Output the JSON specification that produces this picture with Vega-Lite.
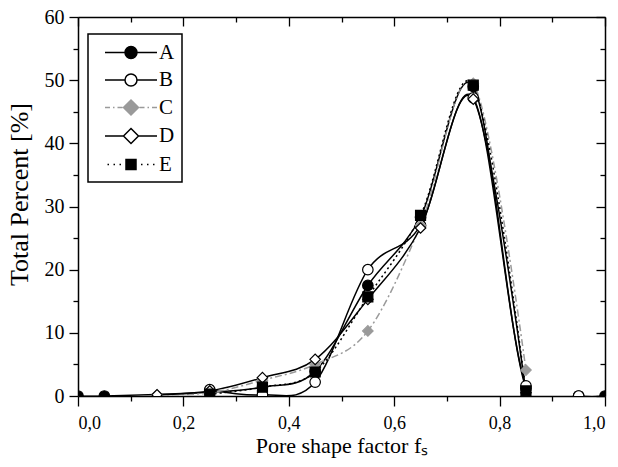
{
  "$schema": "https://vega.github.io/schema/vega-lite/v6.json",
  "width": 527,
  "height": 379,
  "autosize": "none",
  "padding": {"left": 78, "top": 17, "right": 13, "bottom": 71},
  "background": "white",
  "config": {
    "view": {"stroke": null},
    "font": "Liberation Serif",
    "axis": {
      "grid": false,
      "domainColor": "black",
      "domainWidth": 1.5,
      "tickColor": "black",
      "tickWidth": 1.3,
      "labelFont": "Liberation Serif",
      "labelColor": "black",
      "titleFont": "Liberation Serif",
      "titleFontWeight": "normal",
      "titleColor": "black"
    }
  },
  "data": {
    "values": [
      {"x": 0.0, "y": 0, "s": "A"},
      {"x": 0.05, "y": 0, "s": "A"},
      {"x": 0.25, "y": 0.6, "s": "A"},
      {"x": 0.35, "y": 1.4, "s": "A"},
      {"x": 0.45, "y": 3.9, "s": "A"},
      {"x": 0.55, "y": 17.5, "s": "A"},
      {"x": 0.65, "y": 28.3, "s": "A"},
      {"x": 0.75, "y": 49, "s": "A"},
      {"x": 0.85, "y": 1.2, "s": "A"},
      {"x": 0.95, "y": 0, "s": "A"},
      {"x": 1.0, "y": 0, "s": "A"},
      {"x": 0.25, "y": 1.0, "s": "B"},
      {"x": 0.35, "y": 0.2, "s": "B"},
      {"x": 0.45, "y": 2.2, "s": "B"},
      {"x": 0.55, "y": 20, "s": "B"},
      {"x": 0.65, "y": 27, "s": "B"},
      {"x": 0.75, "y": 47.2, "s": "B"},
      {"x": 0.85, "y": 1.6, "s": "B"},
      {"x": 0.95, "y": 0, "s": "B"},
      {"x": 0.15, "y": 0.2, "s": "C"},
      {"x": 0.25, "y": 0.5, "s": "C"},
      {"x": 0.35, "y": 2.5, "s": "C"},
      {"x": 0.45, "y": 5, "s": "C"},
      {"x": 0.55, "y": 10.3, "s": "C"},
      {"x": 0.65, "y": 27, "s": "C"},
      {"x": 0.75, "y": 49.5, "s": "C"},
      {"x": 0.85, "y": 4.1, "s": "C"},
      {"x": 0.15, "y": 0.2, "s": "D"},
      {"x": 0.25, "y": 0.8, "s": "D"},
      {"x": 0.35, "y": 2.9, "s": "D"},
      {"x": 0.45, "y": 5.8, "s": "D"},
      {"x": 0.55, "y": 15.3, "s": "D"},
      {"x": 0.65, "y": 26.6, "s": "D"},
      {"x": 0.75, "y": 47, "s": "D"},
      {"x": 0.85, "y": 0.5, "s": "D"},
      {"x": 0.25, "y": 0.3, "s": "E"},
      {"x": 0.35, "y": 1.4, "s": "E"},
      {"x": 0.45, "y": 3.8, "s": "E"},
      {"x": 0.55, "y": 15.7, "s": "E"},
      {"x": 0.65, "y": 28.6, "s": "E"},
      {"x": 0.75, "y": 49.2, "s": "E"},
      {"x": 0.85, "y": 0.8, "s": "E"}
    ]
  },
  "resolve": {"axis": {"x": "independent", "y": "independent"}},
  "layer": [
    {
      "transform": [{"filter": "datum.s === 'A'"}],
      "mark": {"type": "line", "interpolate": "cardinal", "strokeWidth": 1.5, "color": "black", "clip": true},
      "encoding": {
        "x": {
          "field": "x", "type": "quantitative",
          "scale": {"domain": [0, 1], "nice": false, "zero": false},
          "axis": {
            "orient": "bottom",
            "values": [0, 0.2, 0.4, 0.6, 0.8, 1.0],
            "labelExpr": "replace(format(datum.value, '.1f'), '.', ',')",
            "labelFontSize": 18,
            "tickSize": 10,
            "labelPadding": 8,
            "title": "Pore shape factor fₛ",
            "titleFontSize": 22,
            "titlePadding": 3
          }
        },
        "y": {
          "field": "y", "type": "quantitative",
          "scale": {"domain": [0, 60], "nice": false},
          "axis": {
            "orient": "left",
            "values": [0, 10, 20, 30, 40, 50, 60],
            "labelFontSize": 20,
            "tickSize": 9,
            "labelPadding": 5,
            "title": "Total Percent [%]",
            "titleFontSize": 26,
            "titlePadding": 12,
            "titleY": 177
          }
        }
      }
    },
    {
      "transform": [{"filter": "datum.s === 'B'"}],
      "mark": {"type": "line", "interpolate": "cardinal", "strokeWidth": 1.5, "color": "black", "clip": true},
      "encoding": {
        "x": {
          "field": "x", "type": "quantitative",
          "axis": {"orient": "bottom", "values": [0.1, 0.3, 0.5, 0.7, 0.9], "labels": false, "tickSize": 5, "title": null, "domain": false}
        },
        "y": {
          "field": "y", "type": "quantitative",
          "axis": {"orient": "left", "values": [5, 15, 25, 35, 45, 55], "labels": false, "tickSize": 5, "title": null, "domain": false}
        }
      }
    },
    {
      "transform": [{"filter": "datum.s === 'C'"}],
      "mark": {"type": "line", "interpolate": "cardinal", "strokeWidth": 1.5, "color": "#9a9a9a", "strokeDash": [7, 3, 2, 3], "clip": true},
      "encoding": {
        "x": {
          "field": "x", "type": "quantitative",
          "axis": {"orient": "top", "values": [0, 0.2, 0.4, 0.6, 0.8, 1.0], "labels": false, "tickSize": -9, "title": null}
        },
        "y": {
          "field": "y", "type": "quantitative",
          "axis": {"orient": "right", "values": [0, 10, 20, 30, 40, 50, 60], "labels": false, "tickSize": -9, "title": null}
        }
      }
    },
    {
      "transform": [{"filter": "datum.s === 'D'"}],
      "mark": {"type": "line", "interpolate": "cardinal", "strokeWidth": 1.5, "color": "black", "clip": true},
      "encoding": {
        "x": {
          "field": "x", "type": "quantitative",
          "axis": {"orient": "top", "values": [0.1, 0.3, 0.5, 0.7, 0.9], "labels": false, "tickSize": -5, "title": null, "domain": false}
        },
        "y": {
          "field": "y", "type": "quantitative",
          "axis": {"orient": "right", "values": [5, 15, 25, 35, 45, 55], "labels": false, "tickSize": -5, "title": null, "domain": false}
        }
      }
    },
    {
      "transform": [{"filter": "datum.s === 'E'"}],
      "mark": {"type": "line", "interpolate": "cardinal", "strokeWidth": 1.5, "color": "black", "strokeDash": [2, 3], "clip": true},
      "encoding": {
        "x": {"field": "x", "type": "quantitative", "axis": null},
        "y": {"field": "y", "type": "quantitative", "axis": null}
      }
    },
    {
      "transform": [{"filter": "datum.s === 'A'"}],
      "mark": {"type": "point", "shape": "circle", "filled": true, "fill": "black", "stroke": "black", "size": 110, "strokeWidth": 1.2, "opacity": 1, "clip": true},
      "encoding": {
        "x": {"field": "x", "type": "quantitative", "axis": null},
        "y": {"field": "y", "type": "quantitative", "axis": null}
      }
    },
    {
      "transform": [{"filter": "datum.s === 'B'"}],
      "mark": {"type": "point", "shape": "circle", "filled": true, "fill": "white", "stroke": "black", "size": 110, "strokeWidth": 1.2, "opacity": 1, "clip": true},
      "encoding": {
        "x": {"field": "x", "type": "quantitative", "axis": null},
        "y": {"field": "y", "type": "quantitative", "axis": null}
      }
    },
    {
      "transform": [{"filter": "datum.s === 'C'"}],
      "mark": {"type": "point", "shape": "diamond", "filled": true, "fill": "#9a9a9a", "stroke": "#9a9a9a", "size": 110, "strokeWidth": 1.2, "opacity": 1, "clip": true},
      "encoding": {
        "x": {"field": "x", "type": "quantitative", "axis": null},
        "y": {"field": "y", "type": "quantitative", "axis": null}
      }
    },
    {
      "transform": [{"filter": "datum.s === 'D'"}],
      "mark": {"type": "point", "shape": "diamond", "filled": true, "fill": "white", "stroke": "black", "size": 110, "strokeWidth": 1.2, "opacity": 1, "clip": true},
      "encoding": {
        "x": {"field": "x", "type": "quantitative", "axis": null},
        "y": {"field": "y", "type": "quantitative", "axis": null}
      }
    },
    {
      "transform": [{"filter": "datum.s === 'E'"}],
      "mark": {"type": "point", "shape": "square", "filled": true, "fill": "black", "stroke": "black", "size": 100, "strokeWidth": 1.2, "opacity": 1, "clip": true},
      "encoding": {
        "x": {"field": "x", "type": "quantitative", "axis": null},
        "y": {"field": "y", "type": "quantitative", "axis": null}
      }
    },
    {
      "transform": [{"filter": "false"}],
      "mark": {"type": "point", "filled": true, "opacity": 1, "strokeWidth": 1.5},
      "encoding": {
        "x": {"field": "x", "type": "quantitative", "axis": null},
        "y": {"field": "y", "type": "quantitative", "axis": null},
        "fill": {
          "field": "s", "type": "nominal",
          "scale": {"domain": ["A", "B", "C", "D", "E"], "range": ["black", "white", "#9a9a9a", "white", "black"]},
          "legend": {
            "title": null,
            "orient": "none",
            "legendX": 10,
            "legendY": 17,
            "padding": 7.5,
            "strokeColor": "black",
            "fillColor": "white",
            "symbolSize": 400,
            "symbolStrokeWidth": 1.5,
            "symbolOpacity": 1,
            "symbolOffset": 24.5,
            "rowPadding": 6.5,
            "labelOffset": 17,
            "labelFont": "Liberation Serif",
            "labelFontSize": 21,
            "labelColor": "black",
            "encode": {
              "legend": {"update": {"strokeWidth": {"value": 1.5}}}
            }
          }
        },
        "stroke": {
          "field": "s", "type": "nominal",
          "scale": {"domain": ["A", "B", "C", "D", "E"], "range": ["black", "black", "#9a9a9a", "black", "black"]}
        },
        "shape": {
          "field": "s", "type": "nominal",
          "scale": {
            "domain": ["A", "B", "C", "D", "E"],
            "range": [
              "M-2.6,0H-0.6M0.6,0H2.6M-0.6,0A0.6,0.6,0,1,0,0.6,0A0.6,0.6,0,1,0,-0.6,0Z",
              "M-2.6,0H-0.6M0.6,0H2.6M-0.6,0A0.6,0.6,0,1,0,0.6,0A0.6,0.6,0,1,0,-0.6,0Z",
              "M-2.6,0H-2.1M-1.8,0H-1.65M-1.35,0H-0.85M0.85,0H1.35M1.65,0H1.8M2.1,0H2.6M0,-0.75L0.75,0L0,0.75L-0.75,0Z",
              "M-2.6,0H-0.75M0.75,0H2.6M0,-0.75L0.75,0L0,0.75L-0.75,0Z",
              "M-2.35,0H-2.2M-1.75,0H-1.6M-1.15,0H-1M1,0H1.15M1.6,0H1.75M2.2,0H2.35M-0.5,-0.5H0.5V0.5H-0.5Z"
            ]
          }
        }
      }
    }
  ]
}
